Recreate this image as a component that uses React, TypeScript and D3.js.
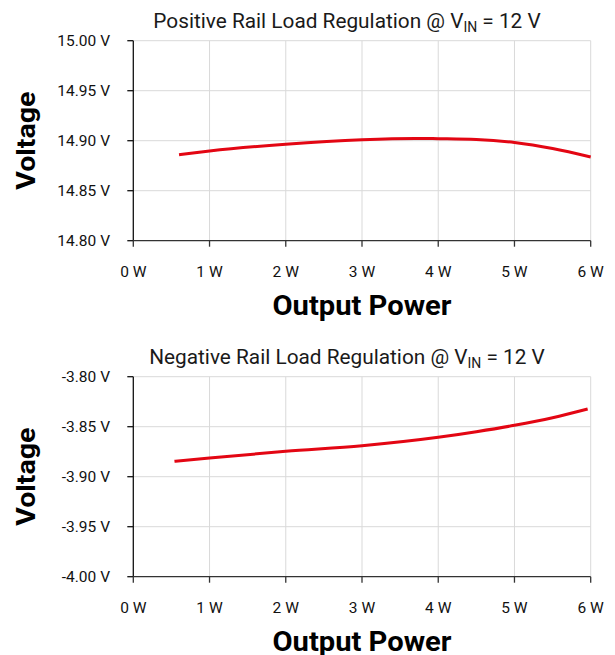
import React from "react";
import * as d3 from "d3";

const powerTicks = [0, 1, 2, 3, 4, 5, 6];

const posPower = [0.6, 1.0, 2.0, 3.0, 3.7, 4.0, 4.5, 5.0, 5.5, 6.0];
const posVoltage = [14.886, 14.8897, 14.8965, 14.901, 14.9023, 14.902, 14.9012, 14.8982, 14.8922, 14.8837];
const posTicks = [14.8, 14.85, 14.9, 14.95, 15.0];

const negPower = [0.54, 1.0, 2.0, 3.0, 4.0, 4.5, 5.0, 5.5, 5.96];
const negVoltage = [-3.8846, -3.8813, -3.8746, -3.869, -3.8606, -3.855, -3.8486, -3.841, -3.8323];
const negTicks = [-4.0, -3.95, -3.9, -3.85, -3.8];

const FONT = "Roboto, 'Open Sans', sans-serif";

type PanelProps = {
  title: string;
  top: number;
  xs: number[];
  ys: number[];
  domain: [number, number];
  ticks: number[];
};

function Panel({ title, top, xs, ys, domain, ticks }: PanelProps) {
  const left = 133.3;
  const right = 590.7;
  const plotTop = top;
  const plotBottom = top + 200;
  const x = d3.scaleLinear().domain([0, 6]).range([left, right]);
  const y = d3.scaleLinear().domain(domain).range([plotBottom, plotTop]);
  const line = d3
    .line<number>()
    .x((_, i) => x(xs[i]))
    .y((d) => y(d))
    .curve(d3.curveMonotoneX);
  const grid = "#d9d9d9";
  return (
    <g>
      <text
        x={347}
        y={plotTop - 13}
        textAnchor="middle"
        fontFamily={FONT}
        fontSize={20.8}
        fill="#1a1a1a"
      >
        {title.split("@")[0]}@ V
        <tspan fontSize={14} dy={4}>IN</tspan>
        <tspan dy={-4}> = 12 V</tspan>
      </text>
      {powerTicks.slice(1).map((p) => (
        <line key={"vg" + p} x1={x(p)} x2={x(p)} y1={plotTop} y2={plotBottom} stroke={grid} strokeWidth={1} />
      ))}
      {ticks.slice(1).map((t) => (
        <line key={"hg" + t} x1={left} x2={right} y1={y(t)} y2={y(t)} stroke={grid} strokeWidth={1} />
      ))}
      <line x1={left} x2={left} y1={plotTop} y2={plotBottom} stroke="#111" strokeWidth={1.3} />
      <line x1={left} x2={right} y1={plotBottom} y2={plotBottom} stroke="#333" strokeWidth={1.3} />
      {ticks.map((t) => (
        <g key={"yt" + t}>
          <line x1={left - 6} x2={left} y1={y(t)} y2={y(t)} stroke="#111" strokeWidth={1.3} />
          <text x={110} y={y(t) + 5.5} textAnchor="end" fontFamily={FONT} fontSize={15.5} fill="#111">
            {t.toFixed(2)} V
          </text>
        </g>
      ))}
      {powerTicks.map((p) => (
        <g key={"xt" + p}>
          <line x1={x(p)} x2={x(p)} y1={plotBottom} y2={plotBottom + 6} stroke="#333" strokeWidth={1.3} />
          <text x={x(p)} y={plotBottom + 36} textAnchor="middle" fontFamily={FONT} fontSize={15.5} fill="#111">
            {p} W
          </text>
        </g>
      ))}
      <text
        transform={`translate(35, ${(plotTop + plotBottom) / 2}) rotate(-90)`}
        textAnchor="middle"
        fontFamily={FONT}
        fontWeight="bold"
        fontSize={26}
        fill="#000"
        textLength={98}
        lengthAdjust="spacingAndGlyphs"
      >
        Voltage
      </text>
      <text
        x={362}
        y={plotBottom + 74}
        textAnchor="middle"
        fontFamily={FONT}
        fontWeight="bold"
        fontSize={28}
        fill="#000"
        textLength={179}
        lengthAdjust="spacingAndGlyphs"
      >
        Output Power
      </text>
      <path d={line(ys) || ""} fill="none" stroke="#e30613" strokeWidth={3} />
    </g>
  );
}

export default function App() {
  return (
    <svg width={615} height={655} style={{ position: "absolute", left: 0, top: 0, background: "#fff" }}>
      <Panel
        title="Positive Rail Load Regulation @ VIN = 12 V"
        top={40.7}
        xs={posPower}
        ys={posVoltage}
        domain={[14.8, 15.0]}
        ticks={posTicks}
      />
      <Panel
        title="Negative Rail Load Regulation @ VIN = 12 V"
        top={376.7}
        xs={negPower}
        ys={negVoltage}
        domain={[-4.0, -3.8]}
        ticks={negTicks}
      />
    </svg>
  );
}
